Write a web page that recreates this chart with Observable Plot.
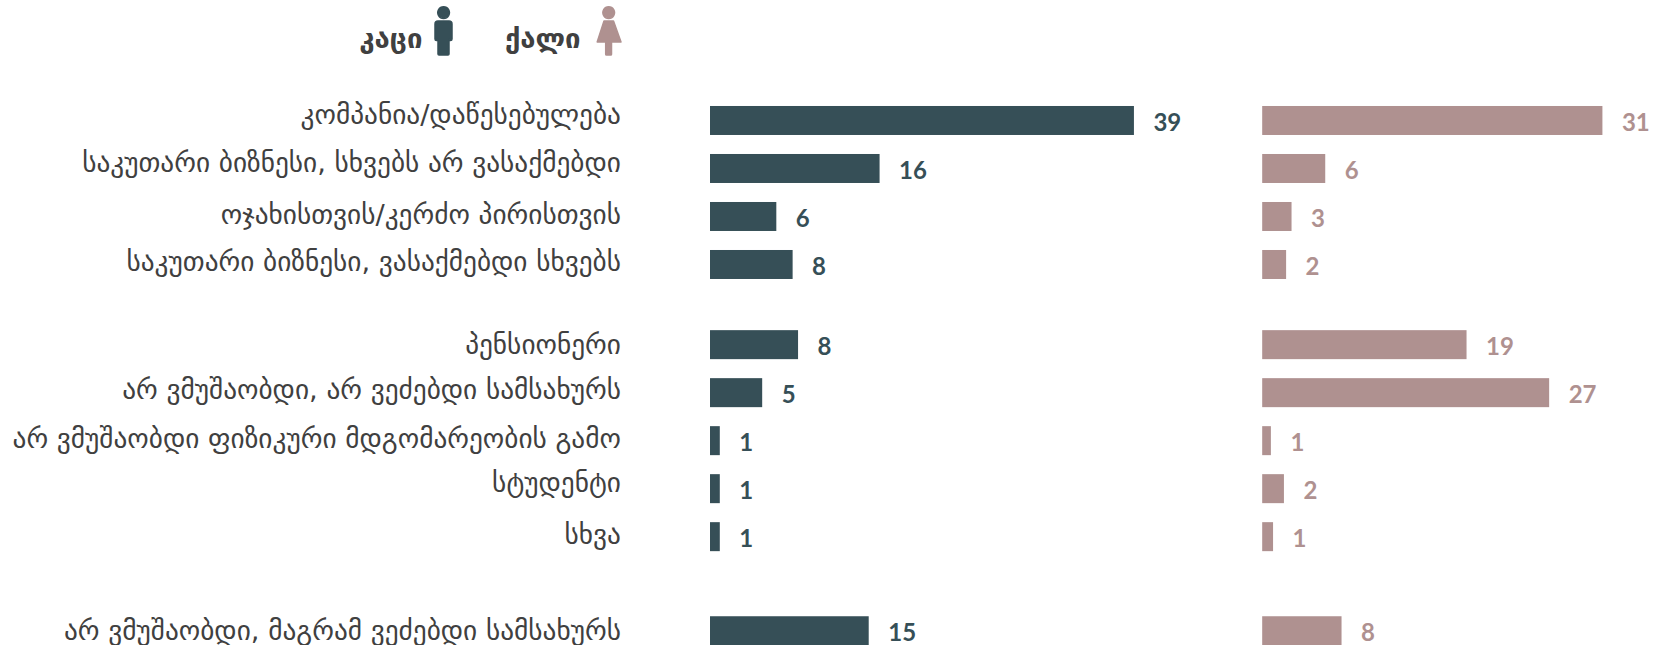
<!DOCTYPE html>
<html><head><meta charset="utf-8">
<script src="https://cdn.jsdelivr.net/npm/d3@7"></script>
<script src="https://cdn.jsdelivr.net/npm/@observablehq/plot@0.6"></script>
<style>html,body{margin:0;padding:0;background:#fff;overflow:hidden}</style>
</head><body><div id="chart"></div>
<script>
const categories = ["კომპანია/დაწესებულება","საკუთარი ბიზნესი, სხვებს არ ვასაქმებდი","ოჯახისთვის/კერძო პირისთვის","საკუთარი ბიზნესი, ვასაქმებდი სხვებს","პენსიონერი","არ ვმუშაობდი, არ ვეძებდი სამსახურს","არ ვმუშაობდი ფიზიკური მდგომარეობის გამო","სტუდენტი","სხვა","არ ვმუშაობდი, მაგრამ ვეძებდი სამსახურს"];
const groups = [0,0,0,0,1,1,1,1,1,2];
const menLabels = [39,16,6,8,8,5,1,1,1,15];
const womenLabels = [31,6,3,2,19,27,1,2,1,8];
const menLengths = [39,15.6,6.1,7.6,8.1,4.8,0.9,0.9,0.9,14.6];
const womenLengths = [31.3,5.8,2.7,2.2,18.8,26.4,0.8,2,1,7.3];
const MEN="#364f57", WOMEN="#af9190";
const womenStart=50.8, groupGap=[0,0.67,1.63], half=0.302;
const labelShift=[-1,-1,3,2,5,2,3,-1,3,5];
const rows=categories.map((c,i)=>({c,y:i+groupGap[groups[i]],ly:i+groupGap[groups[i]]+labelShift[i]/48}));
const men=rows.map((r,i)=>({...r,x1:0,x2:menLengths[i],label:menLabels[i]}));
const women=rows.map((r,i)=>({...r,x1:womenStart,x2:womenStart+womenLengths[i],label:womenLabels[i]}));
const bars=(d,fill)=>Plot.rect(d,{x1:"x1",x2:"x2",y1:r=>r.y-half,y2:r=>r.y+half,fill});
const vals=(d,fill)=>Plot.text(d,{x:"x2",y:"y",text:"label",fill,dx:19,dy:2.5,textAnchor:"start",fontFamily:"Lato",fontWeight:700,fontSize:24});
const icon=(path,fill,tx)=>()=>{const g=d3.create("svg:g").attr("transform",`translate(${tx},0)`);g.append("path").attr("d",path).attr("fill",fill).attr("stroke",fill).attr("stroke-width",1.5).attr("stroke-linejoin","round");return g.node();};
const manPath="M9.6 6.8a5.8 5.8 0 1 1-.01 0ZM4 21h11a3 3 0 0 1 3 3v15a1.5 1.5 0 0 1-3 0v15a1 1 0 0 1-1 1H5a1 1 0 0 1-1-1V39a1.5 1.5 0 0 1-3 0V24a3 3 0 0 1 3-3Z";
const womanPath="M11.7 6.8a5.8 5.8 0 1 1-.01 0ZM7 21h9.5l7.5 21h-9.5v12.2a.8.8 0 0 1-.8.8H9.5a.8.8 0 0 1-.8-.8V42H0.2Z";
const plot=Plot.plot({width:1656,height:645,margin:0,
  x:{domain:[-65.32,87.03],range:[0,1656],axis:null},
  y:{domain:[-2.51,10.927],range:[0,645],axis:null},
  style:{background:"#fff"},
  marks:[
    bars(men,MEN),bars(women,WOMEN),vals(men,MEN),vals(women,WOMEN),
    Plot.text(rows,{x:()=>-8.24,y:"ly",text:"c",textAnchor:"end",fill:"#404040",fontFamily:"DejaVu Sans",fontSize:27.3,dy:-4.5}),
    Plot.text(["კაცი","ქალი"],{x:[-26.5,-11.95],y:[-1.72,-1.72],text:d=>d,textAnchor:"end",fill:"#404040",fontFamily:"DejaVu Sans",fontWeight:700,fontSize:27.5,dy:1}),
    icon(manPath,MEN,434),icon(womanPath,WOMEN,597)
  ]});
document.getElementById("chart").append(plot);
</script></body></html>
